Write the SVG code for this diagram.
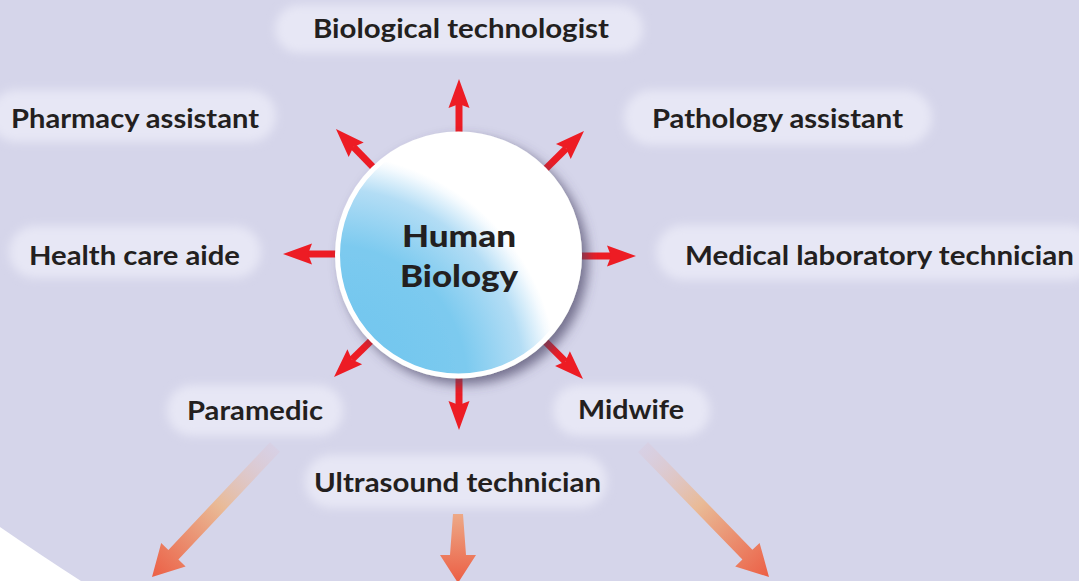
<svg xmlns="http://www.w3.org/2000/svg" width="1079" height="581" viewBox="0 0 1079 581">
<style>
.pill{fill:#e7e7f5;filter:url(#soft)}
.lbl{font-family:Lato,"Open Sans","Liberation Sans",sans-serif;font-weight:700;font-size:26px;fill:#231f20}
.ctr{font-family:Lato,"Open Sans","Liberation Sans",sans-serif;font-weight:900;font-size:31px;fill:#231f20;text-anchor:middle}
.red{stroke:#ed1c24;stroke-width:7;fill:none;marker-end:url(#rh)}
</style>
<defs>
<filter id="soft" x="-20%" y="-50%" width="140%" height="200%"><feGaussianBlur stdDeviation="5"/></filter>
<filter id="shadow" x="-30%" y="-30%" width="160%" height="160%">
<feGaussianBlur in="SourceAlpha" stdDeviation="6"/>
<feOffset dx="6" dy="6" result="b"/>
<feFlood flood-color="#4a4566" flood-opacity="0.7"/>
<feComposite in2="b" operator="in"/>
<feMerge><feMergeNode/><feMergeNode in="SourceGraphic"/></feMerge>
</filter>
<radialGradient id="ball" gradientUnits="userSpaceOnUse" cx="330" cy="382" r="228">
<stop offset="0" stop-color="#6cc4ee"/>
<stop offset="0.6" stop-color="#7ccaef"/>
<stop offset="0.85" stop-color="#b3ddf5"/>
<stop offset="0.97" stop-color="#f4fafe"/>
<stop offset="1" stop-color="#ffffff"/>
</radialGradient>
<marker id="rh" markerUnits="userSpaceOnUse" viewBox="0 -11 30 22" markerWidth="30" markerHeight="22" refX="4" refY="0" orient="auto" overflow="visible">
<path d="M29,0 L0,-10.5 L4,0 L0,10.5 Z" fill="#ed1c24"/>
</marker>
<linearGradient id="og1" gradientUnits="userSpaceOnUse" x1="275" y1="447" x2="152" y2="577">
<stop offset="0" stop-color="#dcc6d8" stop-opacity="0.3"/>
<stop offset="0.45" stop-color="#e9ba96"/>
<stop offset="1" stop-color="#ec5f45"/>
</linearGradient>
<linearGradient id="og2" gradientUnits="userSpaceOnUse" x1="643" y1="447" x2="769" y2="577">
<stop offset="0" stop-color="#dcc6d8" stop-opacity="0.3"/>
<stop offset="0.45" stop-color="#e9ba96"/>
<stop offset="1" stop-color="#ec5f45"/>
</linearGradient>
<linearGradient id="og3" gradientUnits="userSpaceOnUse" x1="458" y1="514" x2="458" y2="582">
<stop offset="0" stop-color="#eda987"/>
<stop offset="1" stop-color="#ec5f45"/>
</linearGradient>
</defs>
<rect width="1079" height="581" fill="#d5d5ea"/>
<path d="M0,527 Q42,556 81,581 L0,581 Z" fill="#ffffff"/>

<g id="label-biological-technologist"><rect class="pill" x="275" y="5" width="368" height="48" rx="24"/><text class="lbl" x="313" y="38" textLength="296" lengthAdjust="spacingAndGlyphs">Biological technologist</text></g>
<g id="label-pharmacy-assistant"><rect class="pill" x="-10" y="90" width="286" height="52" rx="26"/><text class="lbl" x="11" y="128" textLength="248" lengthAdjust="spacingAndGlyphs">Pharmacy assistant</text></g>
<g id="label-pathology-assistant"><rect class="pill" x="624" y="90" width="308" height="55" rx="27"/><text class="lbl" x="652" y="128" textLength="251" lengthAdjust="spacingAndGlyphs">Pathology assistant</text></g>
<g id="label-health-care-aide"><rect class="pill" x="9" y="226" width="252" height="52" rx="26"/><text class="lbl" x="29" y="265" textLength="211" lengthAdjust="spacingAndGlyphs">Health care aide</text></g>
<g id="label-medical-laboratory-technician"><rect class="pill" x="656" y="225" width="440" height="55" rx="27"/><text class="lbl" x="685" y="265" textLength="389" lengthAdjust="spacingAndGlyphs">Medical laboratory technician</text></g>
<g id="label-paramedic"><rect class="pill" x="167" y="385" width="176" height="51" rx="25"/><text class="lbl" x="187" y="420" textLength="136" lengthAdjust="spacingAndGlyphs">Paramedic</text></g>
<g id="label-midwife"><rect class="pill" x="553" y="385" width="157" height="51" rx="25"/><text class="lbl" x="578" y="419" textLength="106" lengthAdjust="spacingAndGlyphs">Midwife</text></g>
<g id="label-ultrasound-technician"><rect class="pill" x="305" y="455" width="302" height="53" rx="26"/><text class="lbl" x="314" y="492" textLength="287" lengthAdjust="spacingAndGlyphs">Ultrasound technician</text></g>

<g id="connectors">
<line class="red" x1="459" y1="150" x2="459" y2="104"/>
<line class="red" x1="381.8" y1="176.1" x2="353.4" y2="146.9"/>
<line class="red" x1="536.7" y1="177.7" x2="566.2" y2="148.6"/>
<line class="red" x1="350" y1="254" x2="308" y2="254"/>
<line class="red" x1="570" y1="256" x2="611" y2="256"/>
<line class="red" x1="380" y1="332" x2="351.9" y2="359.5"/>
<line class="red" x1="536.5" y1="332.7" x2="565.3" y2="361.4"/>
<line class="red" x1="459" y1="360" x2="459" y2="405"/>
<polygon fill="url(#og1)" points="270,442.2 280,451.8 178.4,559.5 185.6,566.4 152,577 161.2,543 168.4,549.9"/>
<polygon fill="url(#og2)" points="648,442.1 638,451.9 742.4,559.6 735.2,566.5 769,577 759.6,542.9 752.4,549.8"/>
<polygon fill="url(#og3)" points="453,514 463,514 466,555 476,555 458,583 440,555 450,555"/>
</g>

<g id="node-human-biology">
<circle cx="458.5" cy="255" r="121" fill="url(#ball)" stroke="#ffffff" stroke-width="5" filter="url(#shadow)"/>
<text class="ctr" x="459" y="247" textLength="114" lengthAdjust="spacingAndGlyphs">Human</text>
<text class="ctr" x="459" y="287" textLength="118" lengthAdjust="spacingAndGlyphs">Biology</text>
</g>
</svg>
